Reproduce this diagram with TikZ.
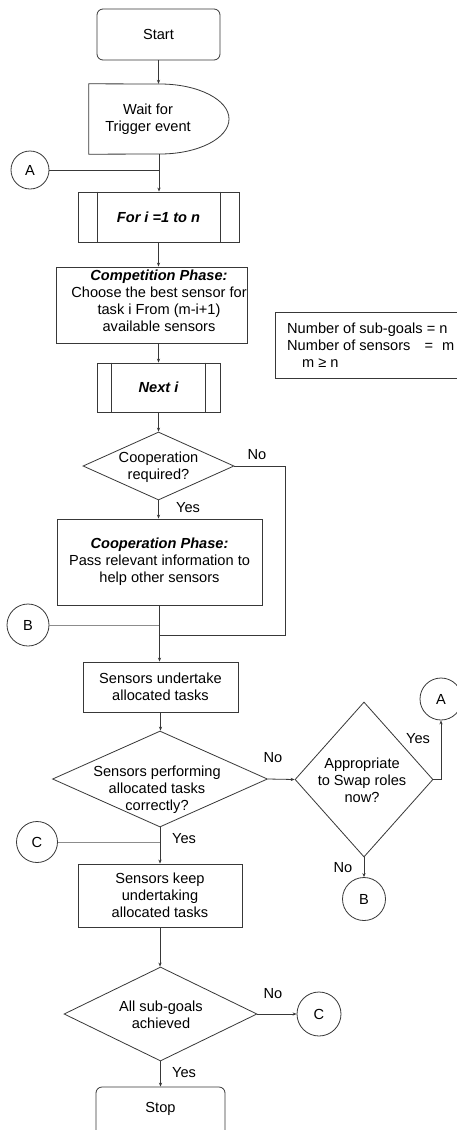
\documentclass[tikz,border=0pt]{standalone}
\usepackage{fontspec}
\setmainfont{Liberation Sans}
\usetikzlibrary{shapes.geometric,arrows.meta}
\begin{document}
\begin{tikzpicture}[x=1pt,y=-1pt,
  every node/.style={font=\fontsize{14.6}{17}\selectfont},
  line/.style={draw=black!78,line width=0.8pt},
  faint/.style={draw=black!45,line width=0.8pt},
  arr/.style={line,-{Stealth[length=4pt,width=3.2pt]}},
  box/.style={draw=black!78,line width=0.8pt,rectangle,inner sep=0pt,align=center},
  term/.style={box,rounded corners=6pt},
  decision/.style={draw=black!78,line width=0.8pt,diamond,inner sep=0pt},
  conn/.style={draw=black!78,line width=0.8pt,circle,inner sep=0pt,minimum size=41pt},
  lbl/.style={inner sep=0pt,align=center}
]
\useasboundingbox (0,0) rectangle (457,1130);
\fill[white] (0,0) rectangle (457,1130);
\clip (0,0) rectangle (457,1130);

% terminals and process boxes
\node[term, minimum width=123pt, minimum height=51pt] (start) at (158.5,34.5) {Start};

\node[inner sep=0pt, minimum width=140pt, minimum height=70pt] (wait) at (159,119) {};
\draw[line] (wait.north west) -- (160,84)
  arc[start angle=-90, end angle=90, x radius=69, y radius=35]
  -- (wait.south west) -- cycle;
\node[lbl] (waittext) at (148,119.5) {Wait for\\Trigger event};

\node[conn, minimum size=38pt] (A1) at (30,170) {A};

\node[box, minimum width=161pt, minimum height=50pt] (forloop) at (158.5,217) {\bfseries\itshape For i =1 to n};
\draw[line] ([xshift=20pt]forloop.north west) -- ([xshift=20pt]forloop.south west);
\draw[line] ([xshift=-19pt]forloop.north east) -- ([xshift=-19pt]forloop.south east);

\node[box, minimum width=191pt, minimum height=76pt] (comp) at (151.5,305) {};
\node[lbl] (comptext) at (159,300.5) {\bfseries\itshape Competition Phase:\\Choose the best sensor for\\task i From (m-i+1)\\available sensors};

\node[box, minimum width=183pt, minimum height=66pt] (note) at (366.5,345) {};
\node[lbl, align=left, anchor=west] (notetext) at (287,345.5)
  {Number of sub-goals = n\\Number of sensors\hspace{14pt}=\hspace{9pt}m\\\hspace*{15pt}m ≥ n};

\node[box, minimum width=123pt, minimum height=49pt] (nexti) at (158.5,387.5) {\bfseries\itshape Next i};
\draw[line] ([xshift=15pt]nexti.north west) -- ([xshift=15pt]nexti.south west);
\draw[line] ([xshift=-15pt]nexti.north east) -- ([xshift=-15pt]nexti.south east);

\node[decision, minimum width=151pt, minimum height=68pt] (d1) at (158.5,466) {};
\node[lbl] (d1text) at (158.5,467) {Cooperation\\required?};

\node[box, minimum width=205pt, minimum height=86pt] (coop) at (159.5,562)
  {\bfseries\itshape Cooperation Phase:\\Pass relevant information to\\help other sensors};

\node[conn, minimum size=42pt] (B1) at (28,625) {B};
\coordinate (noloop) at (285,635);

\node[box, minimum width=155pt, minimum height=50pt] (undertake) at (160.5,687) {Sensors undertake\\allocated tasks};

\node[decision, minimum width=215pt, minimum height=96pt] (d2) at (160,779) {};
\node[lbl] (d2text) at (157,789.5) {Sensors performing\\allocated tasks\\correctly?};

\node[decision, minimum width=138pt, minimum height=155pt] (d3) at (364,779.5) {};
\node[lbl] (d3text) at (362,780) {Appropriate\\to Swap roles\\now?};

\node[conn, minimum size=42pt] (A2) at (441,699) {A};
\node[conn, minimum size=43pt] (B2) at (364,899) {B};
\node[conn, minimum size=41pt] (C1) at (37,842) {C};

\node[box, minimum width=164pt, minimum height=63pt] (keep) at (160,895.5) {Sensors keep\\undertaking\\allocated tasks};

\node[decision, minimum width=193pt, minimum height=94pt] (d4) at (160.5,1014) {};
\node[lbl] (d4text) at (161,1014.5) {All sub-goals\\achieved};

\node[conn, minimum size=44pt] (C2) at (319,1014) {C};

\node[term, minimum width=129pt, minimum height=50pt] (stop) at (160.5,1112) {};
\node[lbl] (stoptext) at (160.5,1108.5) {Stop};

% connectors
\draw[arr] (start.south) -- (start.south |- wait.north);
\draw[line] (A1.east) -- (A1 -| wait.south);
\draw[arr] (wait.south) -- (wait.south |- forloop.north);
\draw[arr] (forloop.south) -- (forloop.south |- comp.north);
\draw[arr] (forloop.south |- comp.south) -- (nexti.north);
\draw[arr] (nexti.south) -- (d1.north);
\draw[arr] (d1.south) -- (d1.south |- coop.north);
\draw[line] (d1.east) -| (noloop) -- (noloop -| coop.south);
\draw[faint] (B1.east) -- (B1 -| coop.south);
\draw[arr] (coop.south) -- (coop.south |- undertake.north);
\draw[arr] (undertake.south) -- (undertake.south |- d2.north);
\draw[arr] (d2.east) -- (d3.west);
\draw[arr] (d3.east) -| (A2.south);
\draw[arr] (d3.south) -- (B2.north);
\draw[faint] (C1.east) -- (C1 -| d2.south);
\draw[arr] (d2.south) -- (d2.south |- keep.north);
\draw[arr] (keep.south) -- (keep.south |- d4.north);
\draw[arr] (d4.east) -- (C2.west);
\draw[arr] (d4.south) -- (d4.south |- stop.north);

% branch labels
\node[lbl] (l1) at (257,455) {No};
\node[lbl] (l2) at (188,508) {Yes};
\node[lbl] (l3) at (273,758) {No};
\node[lbl] (l4) at (418,739) {Yes};
\node[lbl] (l5) at (184,839) {Yes};
\node[lbl] (l6) at (343,868) {No};
\node[lbl] (l7) at (273,994) {No};
\node[lbl] (l8) at (184,1073) {Yes};
\end{tikzpicture}
\end{document}
